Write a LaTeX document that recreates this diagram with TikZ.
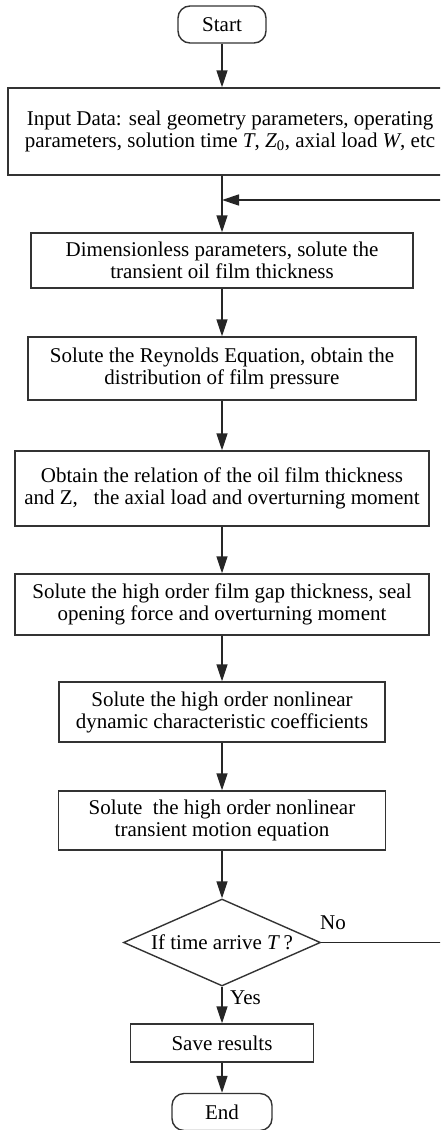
\documentclass[tikz,border=0pt]{standalone}
\usepackage{fontspec}
\setmainfont{Liberation Serif}
\usetikzlibrary{arrows.meta,shapes.geometric}
\tikzset{
  flowbox/.style={draw=black!80, line width=1.4pt, rectangle, inner sep=0pt, align=center},
  terminal/.style={draw=black!80, line width=1.4pt, rounded corners=12pt,
    minimum width=88pt, minimum height=37pt, inner sep=0pt},
  decision/.style={draw=black!80, line width=1.4pt, diamond, aspect=2.26,
    minimum width=197pt, minimum height=87pt, inner sep=0pt},
  flowarrow/.style={draw=black!85, line width=1.4pt, -{Triangle[length=17pt,width=11pt]}}
}

\begin{document}
\begin{tikzpicture}[x=1pt, y=-1pt, font=\fontsize{21}{22}\selectfont]
	\path[use as bounding box, clip] (0,0) rectangle (440,1130);
	\node[terminal] (start) at (222,24.5) {Start};
	\node[flowbox, minimum width=444pt, minimum height=87pt] (input) at (230,131.5)
		{Input Data: seal geometry parameters, operating\\
		 parameters, solution time \textit{T}, \textit{Z}\textsubscript{0}, axial load \textit{W}, etc};
	\node[flowbox, minimum width=382pt, minimum height=55pt] (dimless) at (222,260.5)
		{Dimensionless parameters, solute the\\transient oil film thickness};
	\node[flowbox, minimum width=388pt, minimum height=63pt] (reynolds) at (222,368.5)
		{Solute the Reynolds Equation, obtain the\\distribution of film pressure};
	\node[flowbox, minimum width=414pt, minimum height=75pt] (relation) at (222,488.5)
		{Obtain the relation of the oil film thickness\\and Z,\ \ \ the axial load and overturning moment};
	\node[flowbox, minimum width=414pt, minimum height=61pt] (gap) at (222,604.5)
		{Solute the high order film gap thickness, seal\\opening force and overturning moment};
	\node[flowbox, minimum width=326pt, minimum height=60pt] (coeff) at (222,712)
		{Solute the high order nonlinear\\dynamic characteristic coefficients};
	\node[flowbox, minimum width=327pt, minimum height=59pt] (motion) at (222,820.5)
		{Solute\ \ the high order nonlinear\\transient motion equation};
	\node[decision] (check) at (222,942.5) {If time arrive \textit{T}\,?};
	\node[flowbox, minimum width=183pt, minimum height=38pt] (save) at (222,1043) {Save results};
	\node[terminal, minimum width=100pt] (end) at (222,1112) {End};
	\node[anchor=base west, inner sep=0pt] (no) at (320,929) {No};
	\node[anchor=base west, inner sep=0pt] (yes) at (230,1004) {Yes};
	\coordinate (join) at (222,200);
	\coordinate (loop) at (458,942.5);
	% main flow
	\draw[flowarrow] (start) -- (start |- input.north);
	\draw[flowarrow] (input.south -| dimless) -- (dimless);
	\foreach \a/\b in {dimless/reynolds, reynolds/relation, relation/gap,
		gap/coeff, coeff/motion, motion/check, check/save, save/end}
		\draw[flowarrow] (\a) -- (\b);
	% loop back
	\draw[flowarrow] (check.east) -- (loop) |- (join);
\end{tikzpicture}
\end{document}
